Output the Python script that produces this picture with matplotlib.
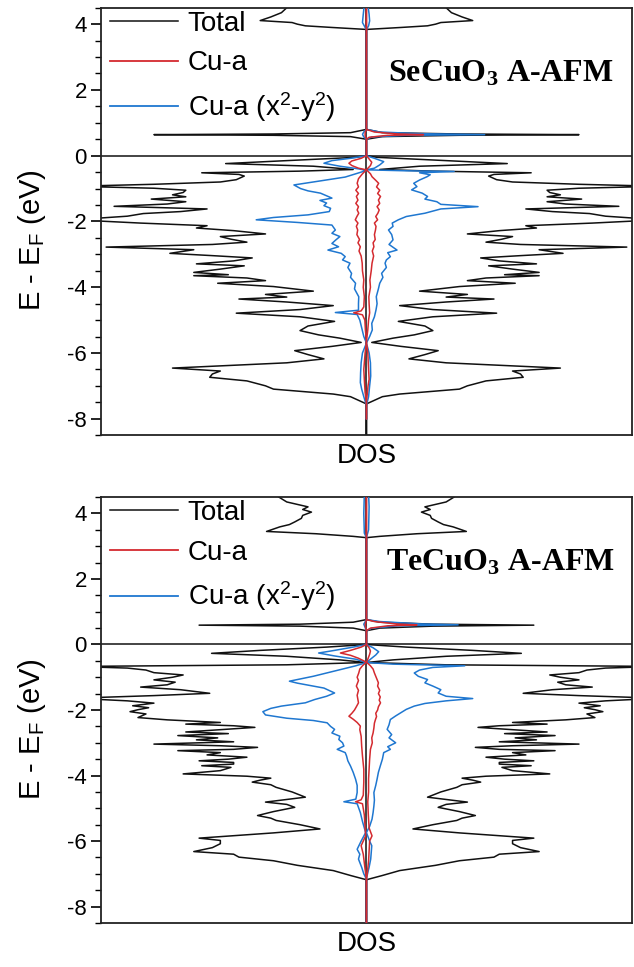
import matplotlib

matplotlib.use("Agg")
import matplotlib.pyplot as plt
import numpy as np
from matplotlib.ticker import MultipleLocator

plt.rcParams["font.family"] = ["Liberation Sans", "DejaVu Sans"]
plt.rcParams["axes.unicode_minus"] = False
plt.rcParams["mathtext.default"] = "regular"

# 读图得到的 DOS 数据: (能量 eV, DOS)，总 DOS 上下自旋对称
se_total = [
    (4.6, 3.0), (4.5, 3.0), (4.35, 3.2), (4.22, 3.6), (4.11, 4.0), (4.05, 2.8), (4.0, 2.6),
    (3.95, 2.3), (3.9, 1.3), (3.84, 0), (0.8, 0), (0.7, 0.6), (0.66, 3.5), (0.64, 8.0),
    (0.62, 3.5), (0.58, 0.6), (0.5, 0), (0.0, 0), (-0.05, 0.4), (-0.15, 3.0), (-0.24, 5.3),
    (-0.32, 2.0), (-0.42, 0.5), (-0.47, 2.5), (-0.52, 6.2), (-0.57, 4.8), (-0.62, 4.6),
    (-0.73, 4.9), (-0.8, 5.5), (-0.87, 8.0), (-0.93, 11.0), (-0.99, 8.0), (-1.05, 6.8),
    (-1.12, 6.9), (-1.19, 7.3), (-1.25, 6.8), (-1.32, 8.1), (-1.4, 6.8), (-1.47, 7.5),
    (-1.54, 9.5), (-1.62, 6.0), (-1.7, 7.0), (-1.76, 8.4), (-1.84, 9.0), (-1.95, 11.0),
    (-2.05, 8.5), (-2.13, 6.0), (-2.2, 6.4), (-2.28, 5.0), (-2.38, 3.8), (-2.46, 5.5),
    (-2.54, 5.1), (-2.63, 4.5), (-2.7, 5.8), (-2.78, 9.8), (-2.86, 6.5), (-2.97, 7.4),
    (-3.04, 5.8), (-3.11, 4.3), (-3.2, 5.0), (-3.29, 6.4), (-3.35, 4.6), (-3.45, 5.5),
    (-3.55, 6.5), (-3.62, 5.2), (-3.65, 6.5), (-3.72, 4.5), (-3.8, 3.8), (-3.88, 5.6),
    (-3.98, 3.5), (-4.12, 2.0), (-4.22, 3.8), (-4.3, 3.0), (-4.36, 4.8), (-4.45, 3.0),
    (-4.56, 1.25), (-4.68, 2.5), (-4.79, 4.9), (-4.9, 2.5), (-5.04, 1.2), (-5.18, 2.2),
    (-5.32, 2.5), (-5.45, 1.8), (-5.55, 1.0), (-5.68, 0.2), (-5.8, 1.3), (-5.93, 2.7),
    (-6.05, 2.2), (-6.18, 1.6), (-6.3, 3.0), (-6.46, 7.3), (-6.55, 5.5), (-6.64, 5.8),
    (-6.74, 5.9), (-6.85, 4.5), (-7.0, 3.8), (-7.1, 3.5), (-7.25, 1.25), (-7.33, 0.6),
    (-7.55, 0), (-8.6, 0),
]
se_cu_up = [
    (4.6, 0), (0.8, 0), (0.72, 0.3), (0.66, 1.2), (0.64, 2.15), (0.62, 0.8), (0.56, 0.1),
    (0.5, 0), (0.0, 0), (-0.1, 0.1), (-0.2, 0.2), (-0.3, 0.15), (-0.43, 0), (-0.55, 0.15),
    (-0.64, 0.21), (-0.75, 0.35), (-0.84, 0.46), (-0.95, 0.38), (-1.05, 0.5), (-1.15, 0.42),
    (-1.24, 0.53), (-1.35, 0.45), (-1.45, 0.5), (-1.55, 0.4), (-1.65, 0.48), (-1.75, 0.43),
    (-1.85, 0.35), (-1.95, 0.42), (-2.05, 0.3), (-2.15, 0.36), (-2.26, 0.34), (-2.4, 0.3),
    (-2.55, 0.33), (-2.65, 0.25), (-2.77, 0.28), (-2.9, 0.22), (-3.05, 0.27), (-3.27, 0.21),
    (-3.5, 0.18), (-3.78, 0.13), (-4.0, 0.15), (-4.29, 0.09), (-4.5, 0.1), (-4.78, 0.12),
    (-5.0, 0.08), (-5.3, 0.05), (-5.65, 0), (-6.0, 0.05), (-6.5, 0.08), (-6.8, 0.1),
    (-7.0, 0.06), (-7.5, 0), (-8.0, 0),
]
se_cu_dn = [
    (4.6, 0), (0.8, 0), (0.7, -0.05), (0.6, -0.05), (0.5, 0), (0.0, 0), (-0.08, -0.2),
    (-0.16, -0.55), (-0.23, -0.66), (-0.3, -0.55), (-0.38, -0.3), (-0.43, 0), (-0.55, -0.15),
    (-0.7, -0.3), (-0.84, -0.35), (-0.95, -0.3), (-1.05, -0.4), (-1.15, -0.3), (-1.24, -0.38),
    (-1.35, -0.32), (-1.45, -0.4), (-1.55, -0.3), (-1.65, -0.35), (-1.75, -0.29),
    (-1.85, -0.36), (-1.95, -0.42), (-2.05, -0.32), (-2.15, -0.38), (-2.26, -0.33),
    (-2.4, -0.36), (-2.55, -0.26), (-2.65, -0.32), (-2.77, -0.23), (-2.9, -0.28),
    (-3.05, -0.2), (-3.27, -0.16), (-3.5, -0.15), (-3.78, -0.1), (-4.0, -0.12),
    (-4.29, -0.08), (-4.6, -0.1), (-4.72, -0.2), (-4.78, -0.48), (-4.84, -0.15),
    (-5.0, -0.06), (-5.3, -0.04), (-5.65, 0), (-6.0, -0.05), (-6.5, -0.1), (-6.8, -0.08),
    (-7.2, -0.05), (-7.5, 0), (-8.0, 0),
]
se_dx_up = [
    (4.6, 0.05), (4.3, 0.1), (4.1, 0.12), (3.95, 0.08), (3.84, 0), (0.8, 0), (0.72, 0.5),
    (0.67, 2.0), (0.64, 4.45), (0.62, 1.5), (0.57, 0.2), (0.5, 0), (0.0, 0), (-0.08, 0.3),
    (-0.18, 0.65), (-0.28, 0.5), (-0.38, 0.3), (-0.43, 0), (-0.46, 1.5), (-0.48, 3.3),
    (-0.52, 2.0), (-0.58, 2.4), (-0.64, 2.28), (-0.74, 2.0), (-0.84, 1.78), (-0.94, 1.9),
    (-1.04, 1.7), (-1.14, 2.1), (-1.24, 2.3), (-1.32, 2.2), (-1.4, 2.65), (-1.48, 2.8),
    (-1.55, 4.2), (-1.62, 2.8), (-1.75, 2.2), (-1.85, 1.5), (-1.95, 1.2), (-2.05, 0.97),
    (-2.15, 1.0), (-2.26, 0.83), (-2.4, 0.95), (-2.56, 1.0), (-2.7, 0.85), (-2.87, 1.15),
    (-2.95, 0.8), (-3.07, 0.9), (-3.17, 0.75), (-3.27, 0.7), (-3.4, 0.75), (-3.58, 0.57),
    (-3.7, 0.62), (-3.88, 0.5), (-4.05, 0.45), (-4.29, 0.37), (-4.5, 0.4), (-4.69, 0.36),
    (-4.9, 0.3), (-5.1, 0.2), (-5.3, 0.22), (-5.5, 0.12), (-5.7, 0), (-6.0, 0.1),
    (-6.3, 0.15), (-6.7, 0.16), (-7.0, 0.12), (-7.33, 0.08), (-7.6, 0), (-8.0, 0),
]
se_dx_dn = [
    (4.6, -0.08), (4.3, -0.12), (4.05, -0.15), (3.9, -0.05), (3.84, 0), (0.8, 0),
    (0.72, -0.1), (0.65, -0.15), (0.57, -0.1), (0.5, 0), (0.0, 0), (-0.08, -0.6),
    (-0.15, -1.3), (-0.23, -1.6), (-0.32, -1.0), (-0.4, -0.3), (-0.45, 0), (-0.55, -0.4),
    (-0.65, -0.8), (-0.75, -1.6), (-0.89, -2.73), (-1.0, -2.48), (-1.07, -2.2),
    (-1.14, -1.73), (-1.22, -1.5), (-1.29, -1.3), (-1.36, -1.75), (-1.44, -1.5),
    (-1.52, -1.6), (-1.6, -1.35), (-1.7, -1.4), (-1.8, -2.2), (-1.88, -3.5), (-1.95, -4.15),
    (-2.03, -2.6), (-2.11, -1.3), (-2.26, -1.17), (-2.36, -1.3), (-2.46, -1.0),
    (-2.56, -1.15), (-2.67, -1.3), (-2.77, -1.05), (-2.87, -1.45), (-2.97, -0.95),
    (-3.07, -0.8), (-3.17, -0.9), (-3.27, -0.62), (-3.4, -0.7), (-3.58, -0.56),
    (-3.7, -0.6), (-3.88, -0.41), (-4.05, -0.45), (-4.29, -0.29), (-4.5, -0.3),
    (-4.7, -0.3), (-4.77, -1.17), (-4.83, -0.35), (-5.0, -0.25), (-5.3, -0.16),
    (-5.5, -0.1), (-5.7, 0), (-6.0, -0.15), (-6.3, -0.2), (-6.6, -0.22), (-6.9, -0.23),
    (-7.1, -0.18), (-7.33, -0.1), (-7.6, 0), (-8.0, 0),
]

te_total = [
    (4.6, 3.4), (4.5, 3.3), (4.35, 3.0), (4.2, 2.2), (4.12, 2.4), (4.04, 2.07), (3.94, 2.4),
    (3.85, 2.45), (3.74, 2.7), (3.66, 2.9), (3.59, 3.26), (3.45, 3.76), (3.38, 1.9),
    (3.3, 0.5), (3.26, 0), (0.76, 0), (0.68, 0.5), (0.62, 2.5), (0.59, 6.3), (0.56, 2.5),
    (0.5, 0.5), (0.42, 0), (0.0, 0), (-0.08, 1.5), (-0.18, 4.0), (-0.27, 5.83), (-0.36, 3.0),
    (-0.47, 1.0), (-0.55, 0), (-0.62, 3.0), (-0.67, 11.0), (-0.72, 9.0), (-0.78, 8.3),
    (-0.86, 8.0), (-0.93, 6.9), (-1.0, 7.3), (-1.08, 8.0), (-1.15, 7.2), (-1.23, 7.5),
    (-1.3, 8.5), (-1.38, 7.0), (-1.49, 5.9), (-1.56, 8.0), (-1.64, 11.0), (-1.72, 9.0),
    (-1.79, 8.0), (-1.87, 8.8), (-1.93, 8.2), (-1.99, 8.6), (-2.05, 8.9), (-2.12, 8.3),
    (-2.23, 8.6), (-2.3, 7.5), (-2.38, 5.5), (-2.43, 6.8), (-2.48, 5.0), (-2.53, 4.2),
    (-2.6, 5.5), (-2.67, 6.8), (-2.72, 5.2), (-2.78, 7.1), (-2.85, 5.6), (-2.91, 6.4),
    (-2.97, 5.0), (-3.04, 8.0), (-3.09, 5.5), (-3.14, 4.1), (-3.2, 5.0), (-3.24, 7.1),
    (-3.3, 5.5), (-3.37, 6.0), (-3.44, 4.5), (-3.5, 5.2), (-3.55, 6.3), (-3.6, 5.0),
    (-3.65, 5.0), (-3.7, 6.2), (-3.75, 5.1), (-3.85, 5.5), (-3.95, 6.9), (-4.02, 4.5),
    (-4.08, 3.6), (-4.14, 4.0), (-4.2, 4.3), (-4.28, 3.6), (-4.36, 3.4), (-4.5, 2.8),
    (-4.66, 2.3), (-4.73, 3.0), (-4.81, 3.8), (-4.88, 3.0), (-4.97, 2.7), (-5.1, 3.5),
    (-5.22, 4.1), (-5.3, 3.6), (-5.37, 3.4), (-5.5, 2.5), (-5.63, 1.75), (-5.75, 3.5),
    (-5.91, 6.3), (-5.98, 5.5), (-6.08, 5.5), (-6.2, 5.8), (-6.32, 6.5), (-6.4, 5.0),
    (-6.49, 4.8), (-6.6, 3.5), (-6.74, 2.6), (-6.9, 1.25), (-7.05, 0.6), (-7.18, 0),
    (-8.6, 0),
]
te_cu_up = [
    (4.6, 0), (0.76, 0), (0.7, 0.3), (0.62, 1.2), (0.6, 1.9), (0.57, 0.8), (0.5, 0.15),
    (0.42, 0), (0.0, 0), (-0.1, 0.1), (-0.2, 0.15), (-0.3, 0.12), (-0.45, 0.05), (-0.54, 0),
    (-0.65, 0.15), (-0.75, 0.25), (-0.87, 0.3), (-0.97, 0.35), (-1.07, 0.4), (-1.17, 0.45),
    (-1.27, 0.42), (-1.4, 0.5), (-1.5, 0.45), (-1.6, 0.52), (-1.7, 0.48), (-1.78, 0.53),
    (-1.9, 0.45), (-2.0, 0.42), (-2.1, 0.35), (-2.2, 0.38), (-2.29, 0.34), (-2.4, 0.3),
    (-2.55, 0.28), (-2.7, 0.25), (-2.85, 0.2), (-3.0, 0.22), (-3.2, 0.15), (-3.5, 0.12),
    (-3.8, 0.1), (-4.1, 0.08), (-4.5, 0.08), (-4.8, 0.05), (-5.2, 0.07), (-5.6, 0.1),
    (-5.84, 0.21), (-6.0, 0.12), (-6.3, 0.1), (-6.6, 0.08), (-7.0, 0.03), (-7.18, 0),
    (-8.6, 0),
]
te_cu_dn = [
    (4.6, 0), (0.76, 0), (0.6, -0.05), (0.42, 0), (0.0, 0), (-0.08, -0.2), (-0.18, -0.6),
    (-0.26, -0.98), (-0.33, -0.6), (-0.42, -0.3), (-0.54, 0), (-0.65, -0.15), (-0.75, -0.25),
    (-0.87, -0.29), (-1.0, -0.35), (-1.1, -0.3), (-1.27, -0.38), (-1.4, -0.3), (-1.55, -0.35),
    (-1.78, -0.3), (-1.9, -0.38), (-2.0, -0.45), (-2.1, -0.55), (-2.19, -0.66), (-2.28, -0.5),
    (-2.38, -0.35), (-2.49, -0.23), (-2.6, -0.25), (-2.8, -0.2), (-3.1, -0.18),
    (-3.4, -0.15), (-3.81, -0.1), (-4.2, -0.1), (-4.6, -0.12), (-4.74, -0.2), (-4.8, -0.41),
    (-4.86, -0.15), (-5.2, -0.08), (-5.6, -0.05), (-5.84, -0.03), (-6.14, -0.2),
    (-6.4, -0.12), (-6.8, -0.06), (-7.18, 0), (-8.6, 0),
]
te_dx_up = [
    (4.6, 0.08), (4.2, 0.1), (3.5, 0.08), (3.26, 0), (0.76, 0), (0.7, 0.5), (0.63, 2.0),
    (0.6, 3.45), (0.57, 1.2), (0.5, 0.2), (0.42, 0), (0.0, 0), (-0.1, 0.25), (-0.22, 0.46),
    (-0.32, 0.35), (-0.45, 0.15), (-0.55, 0), (-0.6, 1.0), (-0.65, 3.7), (-0.7, 2.5),
    (-0.78, 2.0), (-0.87, 1.8), (-0.97, 1.95), (-1.07, 2.3), (-1.17, 2.2), (-1.27, 2.5),
    (-1.38, 2.8), (-1.48, 2.7), (-1.58, 3.0), (-1.65, 4.0), (-1.72, 3.0), (-1.8, 2.2),
    (-1.88, 1.8), (-1.98, 1.5), (-2.08, 1.3), (-2.18, 1.1), (-2.29, 0.9), (-2.45, 0.85),
    (-2.59, 0.78), (-2.75, 0.95), (-2.85, 0.85), (-3.0, 1.1), (-3.12, 0.8), (-3.2, 0.9),
    (-3.3, 0.65), (-3.5, 0.6), (-3.71, 0.52), (-3.9, 0.45), (-4.11, 0.4), (-4.3, 0.35),
    (-4.52, 0.28), (-4.75, 0.3), (-4.93, 0.28), (-5.13, 0.25), (-5.33, 0.21), (-5.55, 0.12),
    (-5.74, 0), (-6.0, 0.12), (-6.14, 0.2), (-6.35, 0.18), (-6.55, 0.16), (-6.8, 0.1),
    (-6.96, 0.05), (-7.16, 0), (-8.6, 0),
]
te_dx_dn = [
    (4.6, -0.08), (4.0, -0.1), (3.4, -0.08), (3.26, 0), (0.76, 0), (0.62, -0.1), (0.42, 0),
    (0.0, 0), (-0.08, -0.5), (-0.18, -1.2), (-0.26, -1.8), (-0.35, -1.2), (-0.45, -0.4),
    (-0.55, 0), (-0.65, -0.4), (-0.75, -0.9), (-0.87, -1.5), (-0.97, -2.0), (-1.07, -2.6),
    (-1.12, -2.9), (-1.18, -2.6), (-1.27, -2.0), (-1.33, -1.6), (-1.48, -1.2),
    (-1.58, -1.5), (-1.68, -1.95), (-1.78, -2.3), (-1.88, -3.2), (-1.95, -3.6),
    (-2.05, -3.9), (-2.15, -3.8), (-2.25, -3.0), (-2.32, -2.0), (-2.39, -1.48),
    (-2.5, -1.35), (-2.59, -1.2), (-2.7, -1.3), (-2.8, -1.0), (-2.9, -1.04), (-3.0, -0.9),
    (-3.1, -0.85), (-3.2, -1.1), (-3.3, -0.8), (-3.4, -0.75), (-3.55, -0.7), (-3.71, -0.6),
    (-3.9, -0.5), (-4.11, -0.41), (-4.3, -0.35), (-4.52, -0.35), (-4.72, -0.4),
    (-4.8, -0.85), (-4.86, -0.35), (-5.13, -0.23), (-5.4, -0.15), (-5.74, -0.03),
    (-6.0, -0.2), (-6.25, -0.35), (-6.4, -0.25), (-6.55, -0.3), (-6.8, -0.18), (-7.0, -0.1),
    (-7.16, 0), (-8.6, 0),
]

panels = [
    ("SeCuO$_{3}$ A-AFM", se_total, se_cu_up, se_cu_dn, se_dx_up, se_dx_dn),
    ("TeCuO$_{3}$ A-AFM", te_total, te_cu_up, te_cu_dn, te_dx_up, te_dx_dn),
]

BLACK = "#111111"
RED = "#d42a2f"
BLUE = "#1f77d0"


def curve(pairs):
    arr = np.array(pairs, dtype=float)
    return arr[:, 1], arr[:, 0]


fig = plt.figure(figsize=(6.34, 9.67), dpi=100)
rects = [[0.159, 0.550, 0.838, 0.442], [0.159, 0.0455, 0.838, 0.4405]]
label_y = [0.457, 0.455]

for rect, ly, (title, tot, cu_up, cu_dn, dx_up, dx_dn) in zip(rects, label_y, panels):
    ax = fig.add_axes(rect)
    # x=0 处的黑色中线 (在各曲线之下)
    ax.axvline(0, color=BLACK, lw=1.1, zorder=1)
    d, e = curve(tot)
    ax.plot(d, e, color=BLACK, lw=1.1, label="Total", zorder=2)
    ax.plot(-d, e, color=BLACK, lw=1.1, zorder=2)
    ax.axhline(0, color=BLACK, lw=1.1, zorder=2)
    for pairs in (dx_up, dx_dn):
        d, e = curve(pairs)
        ax.plot(d, e, color=BLUE, lw=1.1, zorder=3)
    for pairs in (cu_up, cu_dn):
        d, e = curve(pairs)
        ax.plot(d, e, color=RED, lw=1.1, zorder=4)
    # 图例句柄
    ax.plot([], [], color=RED, lw=1.3, label="Cu-a")
    ax.plot([], [], color=BLUE, lw=1.3, label="Cu-a (x$^{2}$-y$^{2}$)")

    ax.set_xlim(-10, 10)
    ax.set_ylim(-8.5, 4.5)
    ax.set_xticks([])
    ax.yaxis.set_major_locator(MultipleLocator(2))
    ax.yaxis.set_minor_locator(MultipleLocator(0.5))
    ax.tick_params(axis="y", which="major", direction="out", length=7, width=1.2,
                   labelsize=16, pad=3)
    ax.tick_params(axis="y", which="minor", direction="out", length=4, width=1.0)
    for sp in ax.spines.values():
        sp.set_linewidth(1.3)
        sp.set_color("#222222")
    ax.set_xlabel("DOS", fontsize=20, labelpad=6)
    ax.set_ylabel("E - E$_{F}$ (eV)", fontsize=21)
    ax.yaxis.set_label_coords(-0.1, ly)

    handles, labels = ax.get_legend_handles_labels()
    ax.legend(handles, labels, loc="upper left", bbox_to_anchor=(0.012, 1.0),
              frameon=False, fontsize=20, handlelength=2.45, handletextpad=0.35,
              labelspacing=0.5, borderpad=0.1, borderaxespad=0)
    ax.text(0.753, 0.845, title, transform=ax.transAxes, ha="center", va="center",
            fontsize=23, fontweight="bold", family="Liberation Serif")

fig.savefig("out.png", dpi=100)
